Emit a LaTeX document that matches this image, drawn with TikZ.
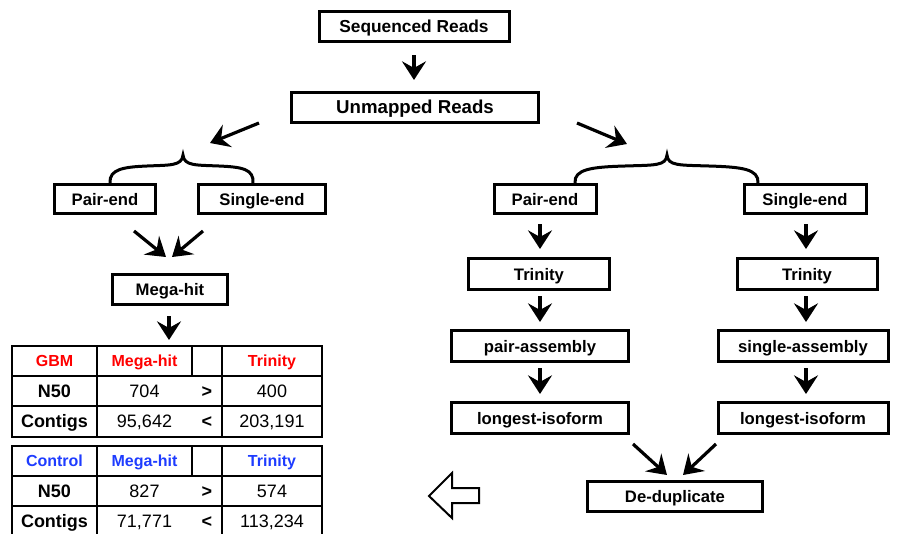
\documentclass[tikz,border=0pt]{standalone}
\usepackage{fontspec}
\setmainfont{Liberation Sans}
\usetikzlibrary{arrows.meta}
\definecolor{gbmred}{RGB}{255,0,0}
\definecolor{ctlblue}{RGB}{30,60,255}
\tikzset{
  bx/.style 2 args={draw, line width=2.25pt, inner sep=0pt, minimum width=#1*0.75pt, minimum height=#2*0.75pt, font=\bfseries\fontsize{12.5}{15}\selectfont, text height=9pt, text depth=0pt},
  arr/.style={line width=2.4pt, -{Stealth[length=14pt,width=18pt,inset=5pt]}},
  brace/.style={line width=2.25pt},
  grid/.style={line width=1.5pt},
  hd/.style={font=\bfseries\fontsize{12}{14}\selectfont, text height=8.6pt, text depth=0pt},
  lb/.style={font=\bfseries\fontsize{13.5}{16}\selectfont, text height=9.7pt, text depth=0pt},
  nm/.style={font=\fontsize{13.5}{16}\selectfont, text height=9.7pt, text depth=0pt},
}
\begin{document}
\begin{tikzpicture}[x=0.75pt,y=-0.75pt]
\useasboundingbox (0,0) rectangle (901,533);
% boxes
\node[bx={190}{30}, font=\bfseries\fontsize{13}{15}\selectfont, text height=9.3pt] (seq) at (414,26) {Sequenced Reads};
\node[bx={247}{30}, font=\bfseries\fontsize{14}{16}\selectfont, text height=10pt] (unm) at (415,107) {Unmapped Reads};
\node[bx={101}{29}] (pel) at (105,199) {Pair-end};
\node[bx={127}{29}] (sel) at (262,199) {Single-end};
\node[bx={115}{30}] (mega) at (170,289) {Mega-hit};
\node[bx={102}{29}] (per) at (545,199) {Pair-end};
\node[bx={122}{29}] (ser) at (805,199) {Single-end};
\node[bx={141}{31}] (tril) at (539,274) {Trinity};
\node[bx={177}{31}] (pa) at (540,346) {pair-assembly};
\node[bx={177}{31}] (lil) at (540,418) {longest-isoform};
\node[bx={140}{31}] (trir) at (807,274) {Trinity};
\node[bx={170}{31}] (sa) at (803,346) {single-assembly};
\node[bx={170}{31}] (lir) at (803,418) {longest-isoform};
\node[bx={175}{30}] (dd) at (675,496) {De-duplicate};
% arrow coordinates
\coordinate (a1s) at (414,55);  \coordinate (a1e) at (414,80);
\coordinate (a2s) at (259,123); \coordinate (a2e) at (210,143);
\coordinate (a3s) at (577,123); \coordinate (a3e) at (627,144);
\coordinate (a4s) at (134,231); \coordinate (a4e) at (166,257);
\coordinate (a5s) at (203,231); \coordinate (a5e) at (172,257);
\coordinate (a6s) at (169,316); \coordinate (a6e) at (169,340);
\coordinate (a7s) at (540,224); \coordinate (a7e) at (540,249);
\coordinate (a8s) at (540,296); \coordinate (a8e) at (540,322);
\coordinate (a9s) at (540,368); \coordinate (a9e) at (540,394);
\coordinate (b7s) at (806,224); \coordinate (b7e) at (806,249);
\coordinate (b8s) at (806,296); \coordinate (b8e) at (806,322);
\coordinate (b9s) at (806,368); \coordinate (b9e) at (806,394);
\coordinate (c1s) at (633,444); \coordinate (c1e) at (667,475);
\coordinate (c2s) at (716,444); \coordinate (c2e) at (683,475);
\foreach \a in {a1,a2,a3,a4,a5,a6,a7,a8,a9,b7,b8,b9,c1,c2}
  \draw[arr] (\a s) -- (\a e);
% braces
\draw[brace] (110,183) .. controls (109,169) and (124,167) .. (147,166)
  .. controls (170,165) and (182,166) .. (183,155)
  .. controls (184,166) and (196,165) .. (219,166)
  .. controls (242,167) and (254,169) .. (253,183);
\draw[brace] (575,183) .. controls (574,169) and (592,167) .. (625,166)
  .. controls (655,165) and (666,166) .. (667,155)
  .. controls (668,166) and (679,165) .. (709,166)
  .. controls (742,167) and (759,169) .. (758,183);
% hollow arrow
\draw[line width=1.5pt, line join=miter] (429,496) -- (452,473) -- (452,488) -- (479,488) -- (479,503) -- (452,503) -- (452,518) -- cycle;
% GBM table
\draw[grid] (12,346) rectangle (322,437);
\draw[grid] (12,376) -- (322,376) (12,406) -- (322,406);
\draw[grid] (97,346) -- (97,437) (222,346) -- (222,437) (192,346) -- (192,376);
\node[hd, text=gbmred] (g11) at (54.5,361) {GBM};
\node[hd, text=gbmred] (g12) at (144.5,361) {Mega-hit};
\node[hd, text=gbmred] (g14) at (272,361) {Trinity};
\node[lb] (g21) at (54.5,391) {N50};
\node[nm] (g22) at (144.5,391) {704};
\node[lb] (g23) at (207,391) {>};
\node[nm] (g24) at (272,391) {400};
\node[lb] (g31) at (54.5,421) {Contigs};
\node[nm] (g32) at (144.5,421) {95,642};
\node[lb] (g33) at (207,421) {<};
\node[nm] (g34) at (272,421) {203,191};
% Control table
\draw[grid] (12,540) -- (12,446) -- (322,446) -- (322,540);
\draw[grid] (12,476) -- (322,476) (12,506) -- (322,506);
\draw[grid] (97,446) -- (97,540) (222,446) -- (222,540) (192,446) -- (192,476);
\node[hd, text=ctlblue] (c11) at (54.5,461) {Control};
\node[hd, text=ctlblue] (c12) at (144.5,461) {Mega-hit};
\node[hd, text=ctlblue] (c14) at (272,461) {Trinity};
\node[lb] (c21) at (54.5,491) {N50};
\node[nm] (c22) at (144.5,491) {827};
\node[lb] (c23) at (207,491) {>};
\node[nm] (c24) at (272,491) {574};
\node[lb] (c31) at (54.5,521) {Contigs};
\node[nm] (c32) at (144.5,521) {71,771};
\node[lb] (c33) at (207,521) {<};
\node[nm] (c34) at (272,521) {113,234};
\end{tikzpicture}
\end{document}
